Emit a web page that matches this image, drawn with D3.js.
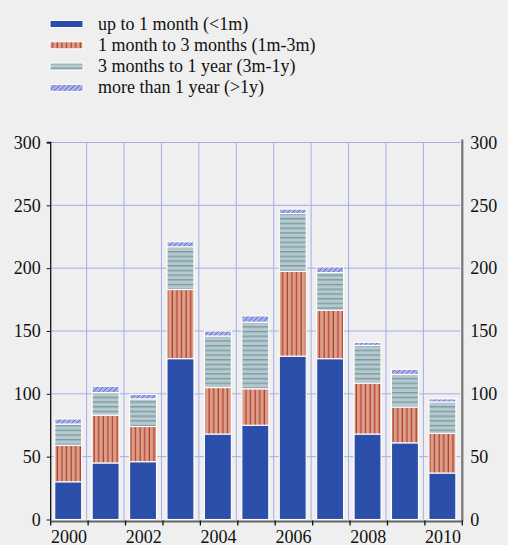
<!DOCTYPE html>
<html><head><meta charset="utf-8">
<script src="https://cdn.jsdelivr.net/npm/d3@7"></script>
<style>
html,body{margin:0;padding:0;background:#efefef;}
</style></head>
<body>
<svg id="c" width="508" height="545" font-family="Liberation Serif"></svg>
<script>
const years = ["2000","2001","2002","2003","2004","2005","2006","2007","2008","2009","2010"];
const yearLabels = ["2000","2002","2004","2006","2008","2010"];
const upTo1m   = [30, 45, 46, 128, 68, 75, 130, 128, 68, 61, 37];
const m1to3    = [29, 38, 28, 55, 37, 29, 67.5, 38.5, 40.5, 28.5, 31.5];
const m3to1y   = [17, 18, 22, 34, 41, 53, 46, 30, 30, 26, 25];
const over1y   = [4, 5, 3.5, 4, 4, 5, 3.5, 4.5, 2.5, 4, 2.5];
const seriesNames = ["up to 1 month (<1m)","1 month to 3 months (1m-3m)","3 months to 1 year (3m-1y)","more than 1 year (>1y)"];
const yTicks = [0,50,100,150,200,250,300];

const svg = d3.select("#c");
const defs = svg.append("defs");

function pat(id, w, h, bg, draw){
  const p = defs.append("pattern").attr("id",id).attr("patternUnits","userSpaceOnUse")
    .attr("width",w).attr("height",h);
  p.append("rect").attr("width",w).attr("height",h).attr("fill",bg);
  draw(p);
}
pat("pRed", 4.6, 10, "#dba08b", p => p.append("rect").attr("x",1.5).attr("y",0).attr("width",1.3).attr("height",10).attr("fill","#b5402e"));
pat("pTeal", 10, 4.7, "#b8c8cc", p => p.append("rect").attr("x",0).attr("y",2).attr("width",10).attr("height",1.2).attr("fill","#6a97a2"));
pat("pHatch", 5, 5, "#a9b0e6", p => p.append("path").attr("d","M-1,6 L6,-1").attr("stroke","#5566cc").attr("stroke-width",0.9));

const fills = ["#2b4ea8","url(#pRed)","url(#pTeal)","url(#pHatch)"];

const pLeft = 50.7, pRight = 462.3, pTop = 142.5, pBottom = 519.5;
const x = d3.scaleBand().domain(years).range([pLeft,pRight]).paddingInner(0.28).paddingOuter(0.14);
const y = d3.scaleLinear().domain([0,300]).range([pBottom, pTop]);

const g = svg.append("g");
g.selectAll("line.h").data(yTicks.filter(d=>d>0)).join("line")
  .attr("x1",pLeft).attr("x2",pRight-2).attr("y1",d=>y(d)).attr("y2",d=>y(d))
  .attr("stroke","#a6acea").attr("stroke-width",1);
const bounds = d3.range(1, years.length).map(i => pLeft + i*x.step());
g.selectAll("line.v").data(bounds).join("line")
  .attr("x1",d=>d-1.5).attr("x2",d=>d-1.5).attr("y1",pTop).attr("y2",pBottom)
  .attr("stroke","#a6acea").attr("stroke-width",1);

const stackRows = years.map((yr,i)=>({year:yr, s0:upTo1m[i], s1:m1to3[i], s2:m3to1y[i], s3:over1y[i]}));
const stack = d3.stack().keys(["s0","s1","s2","s3"])(stackRows);
const bars = svg.append("g");
stack.forEach((layer,k)=>{
  bars.selectAll(null).data(layer).join("rect")
    .attr("x", d=>x(d.data.year)-1.2)
    .attr("width", x.bandwidth())
    .attr("y", d=>y(d[1]))
    .attr("height", d=>y(d[0])-y(d[1]))
    .attr("fill", fills[k])
    .attr("stroke","#ffffff").attr("stroke-width",1.1);
});

const yAxisL = d3.axisLeft(y).tickValues(yTicks).tickSize(4).tickPadding(6);
const gl = svg.append("g").attr("transform",`translate(${pLeft},0)`).call(yAxisL)
  .attr("font-family","Liberation Serif").attr("font-size",18);
gl.select(".domain").attr("stroke","#111").attr("stroke-width",1.3).attr("d",`M-4,${pTop}H0V${pBottom+1}`);
gl.selectAll(".tick line").attr("stroke","#111");
gl.selectAll(".tick text").attr("fill","#111");

const yAxisR = d3.axisRight(y).tickValues(yTicks).tickSize(0).tickPadding(8);
const gr = svg.append("g").attr("transform",`translate(${pRight},0)`).call(yAxisR)
  .attr("font-family","Liberation Serif").attr("font-size",18);
gr.select(".domain").attr("stroke","#777").attr("stroke-width",2.2).attr("d",`M0,${pTop-3}V${pBottom+2}`);
gr.selectAll(".tick text").attr("fill","#111");

const gb = svg.append("g");
gb.append("line").attr("x1",pLeft).attr("x2",pRight).attr("y1",pBottom+2).attr("y2",pBottom+2)
  .attr("stroke","#666").attr("stroke-width",2.2);
gb.selectAll("line.t").data([pLeft, ...bounds, pRight]).join("line")
  .attr("x1",d=>d).attr("x2",d=>d).attr("y1",pBottom+1).attr("y2",pBottom+6)
  .attr("stroke","#111").attr("stroke-width",1.3);
gb.selectAll("text").data(yearLabels).join("text")
  .attr("x", d=>x(d)+x.bandwidth()/2-0.5).attr("y", 543)
  .attr("text-anchor","middle").attr("fill","#111").attr("font-size",18)
  .attr("font-family","Liberation Serif").text(d=>d);

const lg = svg.append("g");
seriesNames.forEach((name,i)=>{
  const cy = 24 + i*21.3;
  lg.append("rect").attr("x",50).attr("y",cy-3.5).attr("width",33).attr("height",7)
    .attr("fill",fills[i]).attr("stroke","#fff").attr("stroke-width",1);
  lg.append("text").attr("x",98).attr("y",cy+5.5).attr("fill","#111").attr("font-size",18)
    .attr("font-family","Liberation Serif").text(name);
});
</script>
</body></html>
